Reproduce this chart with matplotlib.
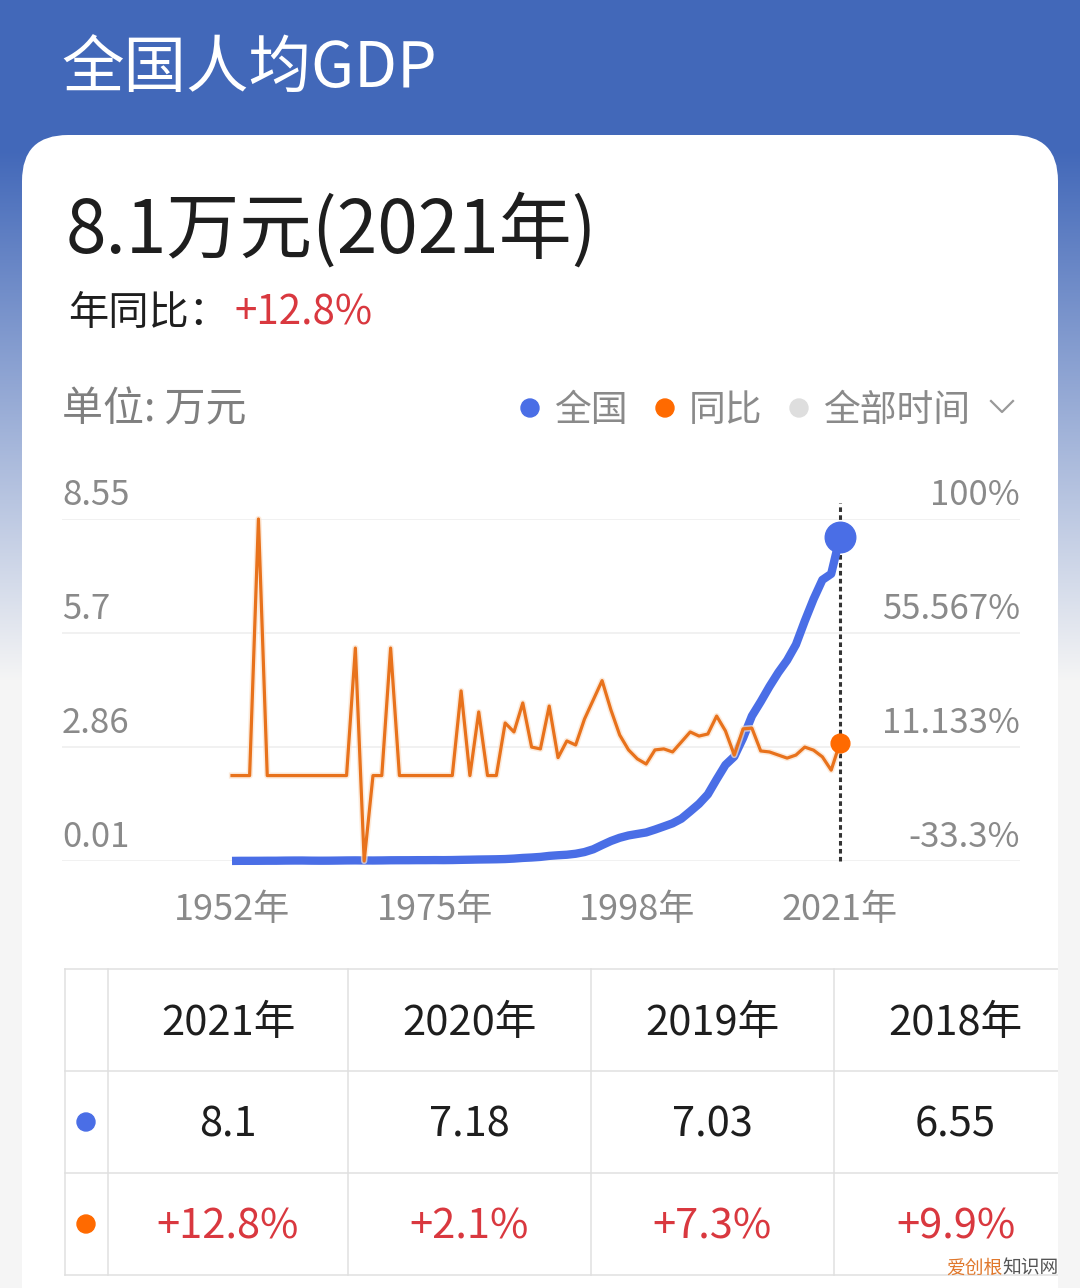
import numpy as np
import matplotlib
matplotlib.use("Agg")
import matplotlib.pyplot as plt
import matplotlib.patheffects as pe
from matplotlib.patches import FancyBboxPatch, Circle
from matplotlib.colors import to_rgb

plt.rcParams['font.family'] = ['Noto Sans CJK SC', 'DejaVu Sans']

# ----------------------------------------
# Data
# ----------------------------------------
years = np.arange(1952, 2022)

# per-capita GDP, 万元
gdp = [0.0119, 0.0142, 0.0144, 0.0150, 0.0166, 0.0168, 0.0200, 0.0216, 0.0218, 0.0185,
       0.0173, 0.0181, 0.0208, 0.0240, 0.0254, 0.0235, 0.0222, 0.0243, 0.0279, 0.0289,
       0.0292, 0.0309, 0.0310, 0.0327, 0.0316, 0.0339, 0.0385, 0.0423, 0.0468, 0.0497,
       0.0533, 0.0588, 0.0702, 0.0866, 0.0973, 0.1123, 0.1378, 0.1536, 0.1663, 0.1912,
       0.2334, 0.3027, 0.4081, 0.5091, 0.5898, 0.6481, 0.6860, 0.7229, 0.7942, 0.8717,
       0.9506, 1.0666, 1.2487, 1.4368, 1.6738, 2.0494, 2.4100, 2.6180, 3.0808, 3.6302,
       3.9874, 4.3684, 4.7173, 5.0237, 5.4139, 6.0014, 6.55, 7.03, 7.18, 8.10]

# year-on-year change, %
yoy = [0, 0, 0, 100, 0, 0, 0, 0, 0, 0,
       0, 0, 0, 0, 49.7, -33.3, 0, 0, 49.7, 0,
       0, 0, 0, 0, 0, 0, 33.0, 0, 24.8, 0,
       0, 20.5, 17.0, 28.3, 11.1, 10.4, 27.1, 7.0, 13.5, 11.9,
       22.0, 29.5, 37.0, 25.6, 15.8, 10.0, 6.5, 4.5, 10.0, 10.4,
       9.2, 13.1, 17.0, 15.4, 16.2, 23.2, 17.4, 8.0, 18.2, 18.5,
       9.6, 9.2, 8.0, 6.8, 8.0, 11.1, 9.9, 7.3, 2.1, 12.8]

left_ticks = [0.01, 2.86, 5.7, 8.55]
right_ticks = [-33.3, 11.133, 55.567, 100]
right_labels = ["-33.3%", "11.133%", "55.567%", "100%"]
x_ticks = [1952, 1975, 1998, 2021]

BLUE = "#4a6ee6"
ORANGE = "#e8721c"
ORANGE_DOT = "#ff6a00"
RED = "#d9383f"
GRAY = "#8a8a8a"
BLACK = "#1e1e1e"

# ----------------------------------------
# Page background + card (pixel coords)
# ----------------------------------------
W, H = 1080, 1288
fig = plt.figure(figsize=(W / 100, H / 100), dpi=100)
bg = fig.add_axes([0, 0, 1, 1])
bg.set_xlim(0, W)
bg.set_ylim(H, 0)
bg.axis("off")

c_top = np.array(to_rgb("#4268b9"))
c_bot = np.array(to_rgb("#f5f5f5"))
t = np.clip((np.arange(H) - 150) / (680 - 150), 0, 1)[:, None]
grad = c_top * (1 - t) + c_bot * t
bg.imshow(np.repeat(grad[:, None, :], 2, axis=1), extent=(0, W, H, 0),
          aspect="auto", zorder=0)

card = FancyBboxPatch((22, 135), 1036, 1300, boxstyle="round,pad=0,rounding_size=46",
                      fc="white", ec="none", zorder=1)
bg.add_patch(card)

bg.text(61, 70, "全国人均GDP", color="white", fontsize=45, va="center", ha="left", zorder=2)
bg.text(66, 232, f"{gdp[-1]:g}万元({years[-1]}年)", color=BLACK, fontsize=52.5,
        va="center", ha="left", zorder=2)
bg.text(68, 313, "年同比：", color=BLACK, fontsize=29, va="center", ha="left", zorder=2)
bg.text(235, 313, f"+{yoy[-1]:.1f}%", color=RED, fontsize=29, va="center", ha="left", zorder=2)
bg.text(62, 410, "单位: 万元", color="#7f7f7f", fontsize=29.5, va="center", ha="left", zorder=2)

# legend
for cx, col, label in [(530, BLUE, "全国"), (665, ORANGE_DOT, "同比"), (799, "#dedede", "全部时间")]:
    bg.add_patch(Circle((cx, 408), 9, color=col, zorder=2))
    bg.text(cx + 24, 410, label, color=GRAY, fontsize=26.5, va="center", ha="left", zorder=2)
bg.plot([991, 1002, 1013], [401, 412, 401], color="#999999", lw=1.6, zorder=2)

# ----------------------------------------
# Chart
# ----------------------------------------
px_per_year = (840 - 232) / 69
ax = fig.add_axes([62 / W, 1 - 861 / H, (1020 - 62) / W, (861 - 519) / H])
ax.patch.set_visible(False)
ax.set_xlim(1952 - (232 - 62) / px_per_year, 2021 + (1020 - 840) / px_per_year)
ax.set_ylim(left_ticks[0], left_ticks[-1])
ax2 = ax.twinx()
ax2.set_ylim(right_ticks[0], right_ticks[-1])

for a in (ax, ax2):
    for s in a.spines.values():
        s.set_visible(False)
    a.set_yticks([])

for v in left_ticks:
    ax.axhline(v, color="#efefef", lw=1.2, zorder=0)
    ax.annotate(f"{v:g}", xy=(0, v), xycoords=ax.get_yaxis_transform(),
                xytext=(0, 10), textcoords="offset points", ha="left", va="baseline",
                fontsize=25, color=GRAY)
for v, lab in zip(right_ticks, right_labels):
    ax2.annotate(lab, xy=(1, v), xycoords=ax2.get_yaxis_transform(),
                 xytext=(0, 10), textcoords="offset points", ha="right", va="baseline",
                 fontsize=25, color=GRAY)

ax.set_xticks(x_ticks)
ax.set_xticklabels([f"{y}年" for y in x_ticks])
ax.tick_params(axis="x", length=0, pad=22, labelsize=26, labelcolor=GRAY)

ax.axvline(years[-1], ymin=0, ymax=1.047, color="#333333", lw=2.2,
           ls=(0, (1.5, 1.1)), clip_on=False, zorder=2)
ax.plot(years, gdp, color=BLUE, lw=6, solid_capstyle="butt",
        solid_joinstyle="round", clip_on=False, zorder=3)
ax.plot(years[-1], gdp[-1], "o", ms=22, color=BLUE, clip_on=False, zorder=4)

ax2.plot(years, yoy, color=ORANGE, lw=2.3, clip_on=False, zorder=3,
         path_effects=[pe.Stroke(linewidth=4.5, foreground="#fbe2cc", alpha=0.7), pe.Normal()])
ax2.plot(years[-1], yoy[-1], "o", ms=13.5, color=ORANGE_DOT, clip_on=False, zorder=4)

# ----------------------------------------
# Table of the latest four years
# ----------------------------------------
rows_y = [969, 1071, 1173, 1275]
cols_x = [65, 108, 348, 591, 834, 1077]
for y in rows_y:
    bg.plot([65, 1058], [y, y], color="#e0e0e0", lw=1.1, zorder=2)
for x in cols_x[:-1]:
    bg.plot([x, x], [rows_y[0], rows_y[-1]], color="#e0e0e0", lw=1.1, zorder=2)

for i in range(4):
    k = len(years) - 1 - i
    cx = (cols_x[i + 1] + cols_x[i + 2]) / 2
    bg.text(cx, 1023, f"{years[k]}年", color=BLACK, fontsize=30, ha="center", va="center", zorder=3)
    bg.text(cx, 1125, f"{gdp[k]:g}", color=BLACK, fontsize=30, ha="center", va="center", zorder=3)
    bg.text(cx, 1227, f"+{yoy[k]:.1f}%", color=RED, fontsize=30, ha="center", va="center", zorder=3)

bg.add_patch(Circle((86, 1122), 9, color=BLUE, zorder=3))
bg.add_patch(Circle((86, 1224), 9, color=ORANGE_DOT, zorder=3))

# card right edge covers the clipped table
bg.add_patch(plt.Rectangle((1058, 700), 30, 700, fc="#f5f5f5", ec="none", zorder=2.5))

# watermark
bg.text(946, 1268, "爱创根", color="#e0782c", fontsize=13.5, ha="left", va="center", zorder=4)
bg.text(1002, 1268, "知识网", color="#555555", fontsize=13.5, ha="left", va="center", zorder=4)

fig.savefig("out.png", dpi=100)
